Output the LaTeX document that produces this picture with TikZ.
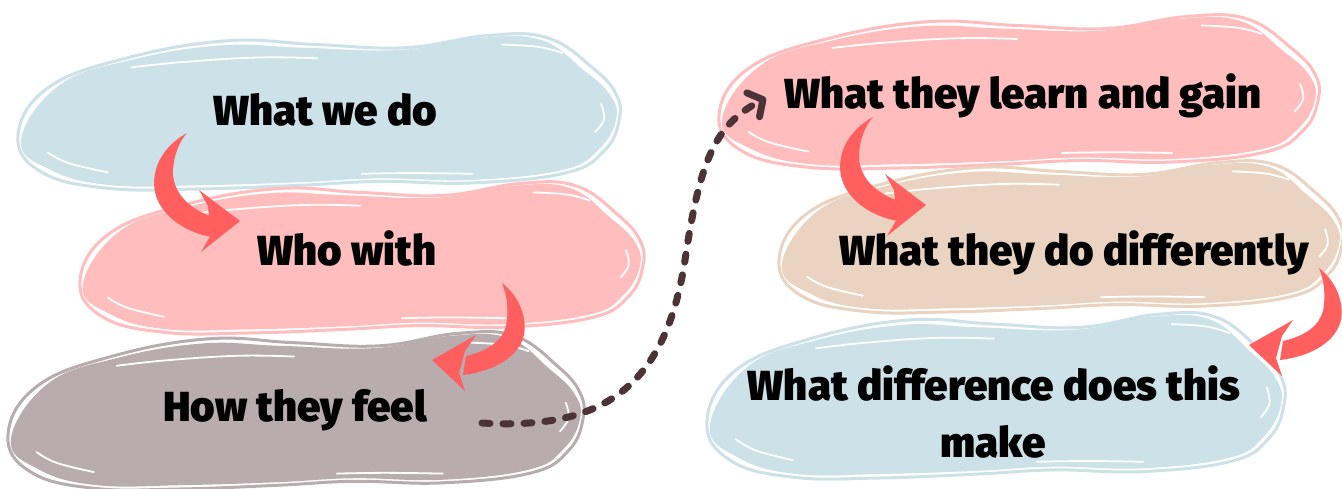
\documentclass[tikz,border=0pt]{standalone}
\usepackage{fontspec}
\newfontfamily\hd{Fira Sans Black}
\usetikzlibrary{arrows.meta}
\definecolor{lblue}{HTML}{CDE1E8}
\definecolor{lpink}{HTML}{FFBDBD}
\definecolor{lgray}{HTML}{B8ACAE}
\definecolor{lbeige}{HTML}{EBD3C1}
\definecolor{coral}{HTML}{FF5F5F}
\definecolor{dbrown}{HTML}{4B3337}
\tikzset{
  lbl/.style={font=\hd\fontsize{42}{48}\selectfont, text=black, inner sep=0pt, anchor=base},
  redarrow/.style={fill=coral},
  dashcon/.style={draw=dbrown, line width=7pt, line cap=round, dash pattern=on 8pt off 13pt,
    -{Straight Barb[length=11pt,width=27pt,line cap=round,line join=round]}},
  sliver/.style={draw=white, line width=1.8pt, line cap=round},
}
\newcommand\myblob[5]{%
  \begin{scope}[shift={(#1,#2)},xscale=#3,yscale=#4]
    \fill[#5] plot[smooth cycle,tension=0.7] coordinates {(-0.99,0.36) (-0.86,-0.37) (-0.62,-0.70) (-0.32,-0.89) (-0.05,-0.86) (0.28,-0.83) (0.55,-0.99) (0.75,-0.96) (0.89,-0.57) (0.98,-0.24) (1.0,0.09) (0.94,0.49) (0.82,0.75) (0.52,0.88) (0.21,0.86) (-0.05,0.91) (-0.39,0.95) (-0.69,0.95) (-0.89,0.75)};
    \draw[#5,line width=3pt] plot[smooth cycle,tension=0.7] coordinates {(-1.0,0.30) (-0.9,-0.33) (-0.64,-0.72) (-0.30,-0.95) (0.0,-0.9) (0.30,-0.86) (0.57,-1.02) (0.77,-0.99) (0.92,-0.60) (1.0,-0.25) (1.01,0.10) (0.96,0.50) (0.83,0.79) (0.52,0.92) (0.21,0.90) (-0.05,0.95) (-0.40,1.0) (-0.70,0.99) (-0.92,0.78)};
    \draw[sliver] plot[smooth,tension=0.7] coordinates {(-0.62,-0.60) (-0.45,-0.67) (-0.2,-0.73) (0.0,-0.72)};
    \draw[sliver] plot[smooth,tension=0.7] coordinates {(0.62,-0.90) (0.74,-0.87) (0.82,-0.79)};
    \draw[sliver] plot[smooth,tension=0.7] coordinates {(0.95,-0.12) (0.96,0.08) (0.93,0.25)};
    \draw[sliver] plot[smooth,tension=0.7] coordinates {(0.15,0.80) (0.32,0.79) (0.52,0.80)};
    \draw[sliver] plot[smooth,tension=0.7] coordinates {(-0.90,0.52) (-0.83,0.66) (-0.70,0.78)};
  \end{scope}}
\begin{document}
\begin{tikzpicture}[x=1pt,y=-1pt]
\useasboundingbox (0,0) rectangle (1342,488);
\fill[white] (0,0) rectangle (1342,488);
% blobs
\myblob{317}{113}{299}{76}{lblue}
\myblob{360}{259}{280}{74}{lpink}
\myblob{294}{412}{286}{77}{lgray}
\myblob{1017}{93}{298}{75}{lpink}
\myblob{1059}{238}{280}{74}{lbeige}
\myblob{994}{397}{287}{81}{lblue}
% labels
\node[lbl] (t1) at (325,125) {What we do};
\node[lbl] (t2) at (347,265) {Who with};
\node[lbl] (t3) at (295,421) {How they feel};
\node[lbl] (t4) at (1023,108) {What they learn and gain};
\node[lbl] (t5) at (1074,265) {What they do differently};
\node[lbl] (t6) at (994,400) {What difference does this};
\node[lbl] (t6b) at (993,457) {make};
% red arrows (down-right type)
\foreach \dx/\dy in {0/0, 686/-16}{
  \begin{scope}[shift={(\dx,\dy)}]
    \fill[redarrow] (187,133) .. controls (160,148) and (151,172) .. (155,192)
      .. controls (160,215) and (185,234) .. (218,238) -- (210,216)
      .. controls (186,207) and (172,190) .. (173,170)
      .. controls (174,155) and (179,142) .. (187,133) -- cycle;
    \fill[redarrow] (199,190) -- (240,221) -- (201,252) -- (211,235) -- (208,206) -- cycle;
  \end{scope}}
% red arrows (down-left type)
\foreach \dx/\dy in {0/0, 817/-15}{
  \begin{scope}[shift={(\dx,\dy)}]
    \fill[redarrow] (502,283) .. controls (520,297) and (527,318) .. (524,335)
      .. controls (519,356) and (496,371) .. (463,375) -- (466,356)
      .. controls (488,351) and (502,341) .. (506,326)
      .. controls (509,310) and (507,295) .. (502,283) -- cycle;
    \fill[redarrow] (476,335) -- (432,360) -- (465,391) -- (459,373) -- (465,351) -- cycle;
  \end{scope}}
% dashed connector
\coordinate (ds) at (482,423);
\coordinate (dm) at (685,260);
\coordinate (de) at (766,98);
\draw[dashcon] (ds) .. controls (600,430) and (665,390) .. (dm) .. controls (700,160) and (715,125) .. (de);
\end{tikzpicture}
\end{document}
